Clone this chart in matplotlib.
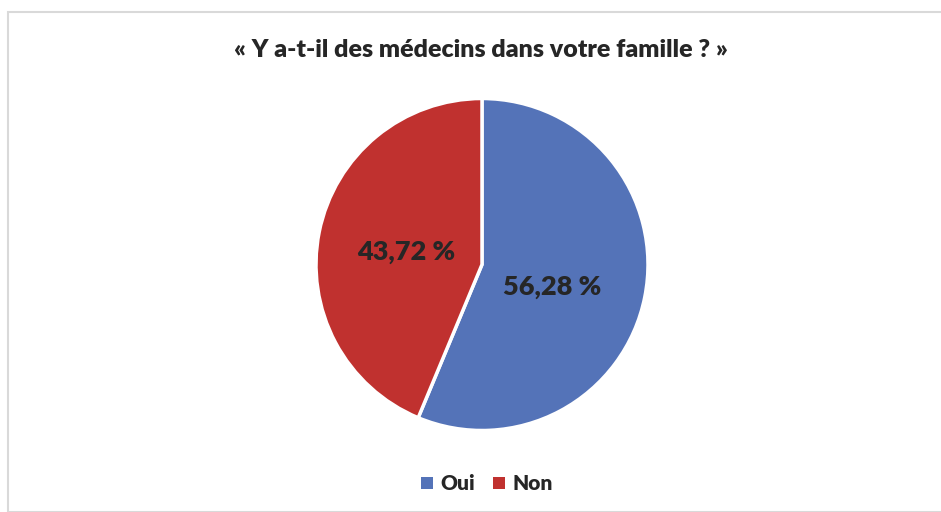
import matplotlib
matplotlib.use("Agg")
import matplotlib.pyplot as plt
import numpy as np
from matplotlib.patches import Rectangle

categories = ["Oui", "Non"]
values = [56.28, 43.72]
colors = ["#5473B8", "#C0312F"]
title = "« Y a-t-il des médecins dans votre famille ? »"

plt.rcParams['font.family'] = ['Lato', 'DejaVu Sans']

W, H = 941, 512
fig = plt.figure(figsize=(W / 100, H / 100), dpi=100)

# border of chart area
fig.patches.append(Rectangle((8 / W, 0), 1.2, (H - 12) / H, transform=fig.transFigure,
                             fill=False, edgecolor="#D9D9D9", linewidth=1.5))

cx, cy, r = 482, 264.5, 166
ax = fig.add_axes([(cx - r) / W, (H - cy - r) / H, 2 * r / W, 2 * r / H])
wedges, texts, autotexts = ax.pie(
    values, colors=colors, startangle=90, counterclock=False,
    autopct=lambda p: f"{p:.2f} %".replace(".", ","), pctdistance=0.45,
    wedgeprops=dict(edgecolor="white", linewidth=2.5),
    textprops=dict(fontsize=19.5, fontweight="heavy", color="#262626"),
    radius=1.0)
ax.set_xlim(-1, 1)
ax.set_ylim(-1, 1)
ax.set_aspect("auto")
ax.axis("off")

# label placement similar to reference
label_r = [0.443, 0.464]
label_ang = [-17.8, 171]
for t, rr, a in zip(autotexts, label_r, label_ang):
    t.set_position((rr * np.cos(np.radians(a)), rr * np.sin(np.radians(a))))

fig.text(481 / W, 1 - 50 / H, title, ha="center", va="center",
         fontsize=18, fontweight="heavy", color="#262626")

leg = fig.legend(wedges, categories, loc="center", bbox_to_anchor=(487 / W, 1 - 484 / H),
                 ncol=2, frameon=False, handlelength=0.55, handleheight=0.55,
                 handletextpad=0.35, columnspacing=0.9,
                 prop=dict(size=15, weight="heavy"))
for txt in leg.get_texts():
    txt.set_color("#262626")
for h in leg.legend_handles:
    h.set_edgecolor("none")

fig.savefig("out.png", dpi=100)
